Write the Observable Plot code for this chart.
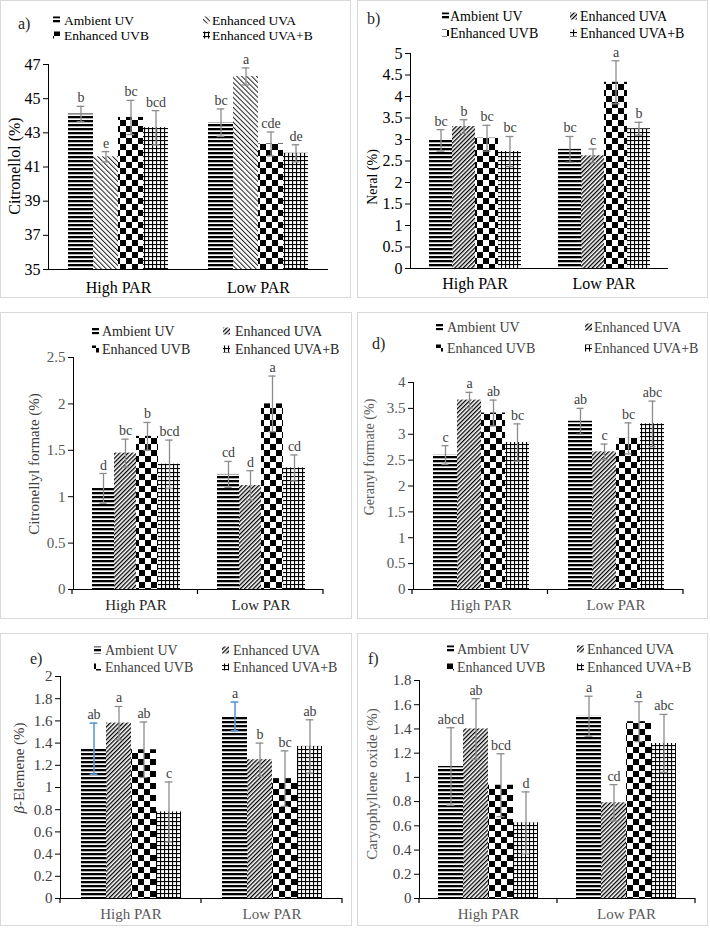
<!DOCTYPE html>
<html><head><meta charset="utf-8">
<script src="https://cdn.jsdelivr.net/npm/d3@7"></script>
<script src="https://cdn.jsdelivr.net/npm/@observablehq/plot@0.6"></script>
<style>
body{margin:0;background:#fff;}
#root{position:relative;width:710px;height:928px;overflow:hidden;background:#fff;}
.box{position:absolute;border:1.5px solid #d9d9d9;box-sizing:border-box;}
#root svg.plot{position:absolute;overflow:visible;}
#root svg.plot text{font-family:"Liberation Serif","Times New Roman",serif !important;}
</style></head><body>
<svg width="0" height="0" style="position:absolute"><defs>
  <pattern id="pAmb" patternUnits="userSpaceOnUse" width="4" height="4"><rect width="4" height="4" fill="#fff"/><rect width="4" height="2.3" fill="#000"/></pattern>
  <pattern id="pUVAa" patternUnits="userSpaceOnUse" width="3.5" height="3.5" patternTransform="rotate(-45)"><rect width="3.5" height="3.5" fill="#fff"/><rect width="1" height="3.5" fill="#222"/></pattern>
  <pattern id="pUVA" patternUnits="userSpaceOnUse" width="3" height="3" patternTransform="rotate(45)"><rect width="3" height="3" fill="#fff"/><rect width="1.3" height="3" fill="#000"/></pattern>
  <pattern id="pUVB" patternUnits="userSpaceOnUse" width="12" height="12"><rect width="12" height="12" fill="#fff"/><rect width="6" height="6" fill="#000"/><rect x="6" y="6" width="6" height="6" fill="#000"/></pattern>
  <pattern id="pAB" patternUnits="userSpaceOnUse" width="4" height="4"><rect width="4" height="4" fill="#fff"/><rect width="4" height="1.1" fill="#000"/><rect width="1.1" height="4" fill="#000"/></pattern>
</defs></svg>
<div id="root"></div>
<script>
// ---------- data ----------
const groups = ["High PAR", "Low PAR"];
const treatments = ["Ambient UV", "Enhanced UVA", "Enhanced UVB", "Enhanced UVA+B"];

const citronellolMean = [44.1, 41.6, 43.9, 43.3, 43.6, 46.3, 42.35, 41.8];
const citronellolErr = [0.45, 0.3, 1.0, 1.0, 0.8, 0.5, 0.7, 0.5];
const citronellolLetters = ["b", "e", "bc", "bcd", "bc", "a", "cde", "de"];
const citronellolTicks = [35, 37, 39, 41, 43, 45, 47];

const neralMean = [2.98, 3.3, 3.03, 2.72, 2.77, 2.62, 4.33, 3.25];
const neralErr = [0.25, 0.16, 0.3, 0.35, 0.3, 0.16, 0.5, 0.15];
const neralLetters = ["bc", "b", "bc", "bc", "bc", "c", "a", "b"];
const neralTicks = [0, 0.5, 1, 1.5, 2, 2.5, 3, 3.5, 4, 4.5, 5];

const citronellylMean = [1.09, 1.47, 1.65, 1.35, 1.24, 1.12, 2.0, 1.31];
const citronellylErr = [0.16, 0.15, 0.15, 0.26, 0.14, 0.16, 0.3, 0.14];
const citronellylLetters = ["d", "bc", "b", "bcd", "cd", "d", "a", "cd"];
const citronellylTicks = [0, 0.5, 1, 1.5, 2, 2.5];

const geranylMean = [2.6, 3.66, 3.41, 2.84, 3.25, 2.66, 2.92, 3.2];
const geranylErr = [0.18, 0.15, 0.25, 0.36, 0.25, 0.15, 0.3, 0.44];
const geranylLetters = ["c", "a", "ab", "bc", "ab", "c", "bc", "abc"];
const geranylTicks = [0, 0.5, 1, 1.5, 2, 2.5, 3, 3.5, 4];

const elemeneMean = [1.35, 1.58, 1.34, 0.78, 1.64, 1.25, 1.08, 1.37];
const elemeneErr = [0.23, 0.15, 0.25, 0.27, 0.13, 0.15, 0.25, 0.24];
const elemeneLetters = ["ab", "a", "ab", "c", "a", "b", "bc", "ab"];
const elemeneTicks = [0, 0.2, 0.4, 0.6, 0.8, 1, 1.2, 1.4, 1.6, 1.8, 2];

const caryoMean = [1.09, 1.40, 0.935, 0.625, 1.505, 0.79, 1.46, 1.28];
const caryoErr = [0.32, 0.25, 0.26, 0.255, 0.165, 0.15, 0.165, 0.24];
const caryoLetters = ["abcd", "ab", "bcd", "d", "a", "cd", "a", "abc"];
const caryoTicks = [0, 0.2, 0.4, 0.6, 0.8, 1, 1.2, 1.4, 1.6, 1.8];

// ---------- layout / style ----------
const panels = [
  {tag: "a)", title: "Citronellol (%)", mean: citronellolMean, err: citronellolErr, letters: citronellolLetters, ticks: citronellolTicks,
   box: [0, 0, 351, 298], ml: 48, mr: 23, mt: 64, mb: 29, po: 0.755, fxPad: 12, fs: 16,
   pat: ["pAmb", "pUVAa", "pUVB", "pAB"], tickC: "#000", groupC: "#000", titleC: "#000", legC: "#000", legFs: 13.5,
   leg: {c1s: 53, c1t: 64, c2s: 203, c2t: 212, r1: 20, r2: 35}, tagPos: [18, 23], titlePos: [14, 166], titleFs: 16},
  {tag: "b)", title: "Neral (%)", mean: neralMean, err: neralErr, letters: neralLetters, ticks: neralTicks,
   box: [357, 0, 351, 298], ml: 53, mr: 40, mt: 53, mb: 30, po: 0.8, fxPad: 9, fs: 16,
   pat: ["pAmb", "pUVA", "pUVB", "pAB"], tickC: "#000", groupC: "#000", titleC: "#000", legC: "#000", legFs: 14,
   leg: {c1s: 442, c1t: 450, c2s: 570, c2t: 580, r1: 16, r2: 33}, tagPos: [367, 18], titlePos: [372, 177], titleFs: 14},
  {tag: "", title: "Citronellyl formate (%)", mean: citronellylMean, err: citronellylErr, letters: citronellylLetters, ticks: citronellylTicks,
   box: [0, 312, 352, 307], ml: 72, mr: 29, mt: 45, mb: 30, po: 0.76, fxPad: 10, fs: 15,
   pat: ["pAmb", "pUVA", "pUVB", "pAB"], tickC: "#595959", groupC: "#262626", titleC: "#404040", legC: "#262626", legFs: 14,
   leg: {c1s: 92, c1t: 102, c2s: 223, c2t: 235, r1: 331, r2: 349}, tagPos: null, titlePos: [34, 464], titleFs: 15},
  {tag: "d)", title: "Geranyl formate (%)", mean: geranylMean, err: geranylErr, letters: geranylLetters, ticks: geranylTicks,
   box: [357, 312, 351, 307], ml: 55, mr: 25, mt: 70, mb: 30, po: 0.71, fxPad: 10, fs: 15,
   pat: ["pAmb", "pUVA", "pUVB", "pAB"], tickC: "#595959", groupC: "#595959", titleC: "#595959", legC: "#404040", legFs: 14,
   leg: {c1s: 436, c1t: 447, c2s: 585, c2t: 594, r1: 327, r2: 348}, tagPos: [372, 343], titlePos: [369, 457], titleFs: 14},
  {tag: "e)", title: "β-Elemene (%)", mean: elemeneMean, err: elemeneErr, letters: elemeneLetters, ticks: elemeneTicks,
   box: [0, 633, 352, 293], ml: 60, mr: 10, mt: 43, mb: 28, po: 0.79, fxPad: 10, fs: 15,
   pat: ["pAmb", "pUVA", "pUVB", "pAB"], tickC: "#404040", groupC: "#595959", titleC: "#404040", legC: "#404040", legFs: 14,
   leg: {c1s: 94, c1t: 105, c2s: 222, c2t: 233, r1: 650, r2: 667}, tagPos: [30, 658], titlePos: [19, 768], titleFs: 15,
   blueErr: "Ambient UV"},
  {tag: "f)", title: "Caryophyllene oxide (%)", mean: caryoMean, err: caryoErr, letters: caryoLetters, ticks: caryoTicks,
   box: [357, 633, 351, 293], ml: 62, mr: 13, mt: 47, mb: 28, po: 0.76, fxPad: 10, fs: 15,
   pat: ["pAmb", "pUVA", "pUVB", "pAB"], tickC: "#404040", groupC: "#595959", titleC: "#595959", legC: "#404040", legFs: 14,
   leg: {c1s: 447, c1t: 457, c2s: 577, c2t: 587, r1: 649, r2: 667}, tagPos: [368, 658], titlePos: [372, 784], titleFs: 15}
];

const root = document.getElementById("root");
const serif = "Liberation Serif, Times New Roman, serif";

for (const cfg of panels) {
  const [bx, by, bw, bh] = cfg.box;
  const box = document.createElement("div");
  box.className = "box";
  Object.assign(box.style, {left: bx + "px", top: by + "px", width: bw + "px", height: bh + "px"});
  root.appendChild(box);

  const rows = groups.flatMap((g, gi) => treatments.map((t, ti) => {
    const k = gi * treatments.length + ti;
    return {group: g, treatment: t, value: cfg.mean[k], err: cfg.err[k], letter: cfg.letters[k]};
  }));
  const y0 = cfg.ticks[0];
  const yMax = cfg.ticks[cfg.ticks.length - 1];
  const fw = (bw - cfg.ml - cfg.mr) / 2;
  const barW = fw / (4 + 2 * cfg.po);
  const capInset = Math.max(0, (barW - 8) / 2);
  const errColor = d => (cfg.blueErr === d.treatment ? "#5b9bd5" : "#8c8c8c");
  const errWidth = d => (cfg.blueErr === d.treatment ? 1.6 : 1.3);

  const svg = Plot.plot({
    width: bw, height: bh,
    marginLeft: cfg.ml, marginRight: cfg.mr, marginTop: cfg.mt, marginBottom: cfg.mb,
    style: {fontFamily: serif, fontSize: cfg.fs + "px", color: "#000", background: "transparent", overflow: "visible"},
    facet: {data: rows, x: "group"},
    fx: {domain: groups, padding: 0, label: null, tickSize: 0, tickPadding: cfg.fxPad, axis: "bottom"},
    x: {domain: treatments, axis: null, paddingInner: 0, paddingOuter: cfg.po},
    y: {domain: [y0, yMax], ticks: cfg.ticks, tickSize: 5, tickPadding: 3, line: true, label: null, tickFormat: d => String(d)},
    color: {type: "identity"},
    marks: [
      Plot.barY(rows, {x: "treatment", y1: y0, y2: "value", fill: d => `url(#${cfg.pat[treatments.indexOf(d.treatment)]})`}),
      Plot.ruleY([y0], {stroke: "#000", strokeWidth: 1.2}),
      Plot.ruleX(rows, {x: "treatment", y1: d => d.value - d.err, y2: d => d.value + d.err, stroke: errColor, strokeWidth: errWidth}),
      Plot.tickY(rows, {x: "treatment", y: d => d.value + d.err, stroke: errColor, strokeWidth: errWidth, insetLeft: capInset, insetRight: capInset}),
      Plot.tickY(rows, {x: "treatment", y: d => d.value - d.err, stroke: errColor, strokeWidth: errWidth, insetLeft: capInset, insetRight: capInset}),
      Plot.text(rows, {x: "treatment", y: d => d.value + d.err, text: "letter", dy: -4, lineAnchor: "bottom", fontSize: 14, fill: "#404040"})
    ]
  });
  svg.classList.add("plot");
  svg.style.left = bx + "px";
  svg.style.top = by + "px";
  root.appendChild(svg);

  const s = d3.select(svg);
  s.selectAll('[aria-label^="y-axis"] text').style("fill", cfg.tickC);
  s.selectAll('[aria-label^="fx-axis"] text').style("fill", cfg.groupC);

  // category boundary ticks (panels c–f)
  if (cfg.tag !== "a)" && cfg.tag !== "b)") {
    const yb = bh - cfg.mb;
    for (let i = 0; i <= 2; i++) {
      const xx = cfg.ml + i * fw;
      s.append("line").attr("x1", xx).attr("x2", xx).attr("y1", yb).attr("y2", yb + 5)
        .attr("stroke", "#000").attr("stroke-width", 1.2);
    }
  }

  // y title
  const tt = s.append("text")
    .attr("transform", `translate(${cfg.titlePos[0] - bx},${cfg.titlePos[1] - by}) rotate(-90)`)
    .attr("text-anchor", "middle").attr("dominant-baseline", "central")
    .attr("font-size", cfg.titleFs).attr("fill", cfg.titleC);
  if (cfg.title.startsWith("β")) {
    tt.append("tspan").attr("font-style", "italic").text("β");
    tt.append("tspan").text(cfg.title.slice(1));
  } else {
    tt.text(cfg.title);
  }

  // panel tag
  if (cfg.tagPos) {
    s.append("text").attr("x", cfg.tagPos[0] - bx).attr("y", cfg.tagPos[1] - by)
      .attr("text-anchor", "start").attr("dominant-baseline", "central").attr("font-size", 16)
      .attr("fill", "#262626").text(cfg.tag);
  }

  // legend
  const L = cfg.leg;
  const spots = [[L.c1s, L.c1t, L.r1], [L.c2s, L.c2t, L.r1], [L.c1s, L.c1t, L.r2], [L.c2s, L.c2t, L.r2]];
  treatments.forEach((t, i) => {
    const [sx, tx, ry] = spots[i];
    s.append("rect").attr("x", sx - bx).attr("y", ry - by - 3.5).attr("width", 7).attr("height", 7)
      .attr("fill", `url(#${cfg.pat[i]})`);
    s.append("text").attr("x", tx - bx).attr("y", ry - by).attr("text-anchor", "start").attr("dominant-baseline", "central")
      .attr("font-size", cfg.legFs).attr("fill", cfg.legC).text(t);
  });
}
</script>
</body></html>
